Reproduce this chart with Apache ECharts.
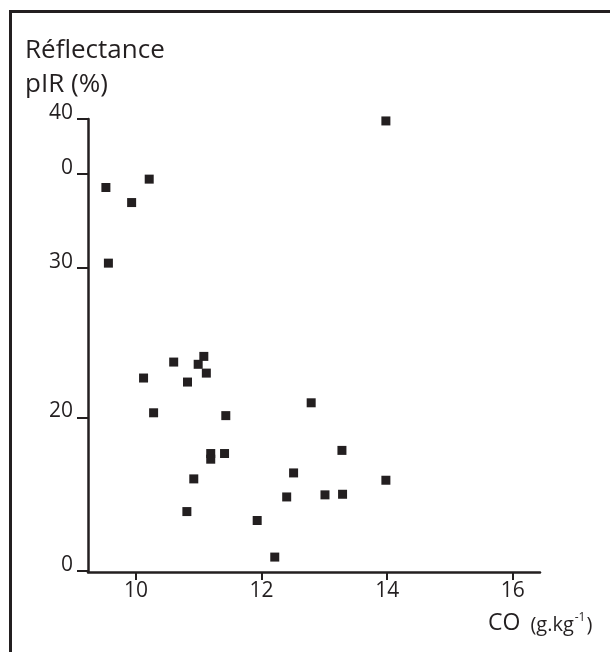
<!DOCTYPE html>
<html>
<head>
<meta charset="utf-8">
<title>Réflectance pIR / CO</title>
<script src="https://cdn.jsdelivr.net/npm/echarts@6/dist/echarts.min.js"></script>
<style>
  html, body { margin: 0; padding: 0; background: #fff; }
  #chart { width: 610px; height: 652px; }
</style>
</head>
<body>
<div id="chart"></div>
<script>
// CO (g.kg-1) et réflectance pIR (%)
var coValues = [10.21, 9.52, 9.93, 9.56, 10.60, 11.08, 10.99, 11.12, 10.12, 10.82,
                10.28, 11.43, 11.19, 11.19, 11.41, 10.92, 10.81, 11.93, 12.21, 12.51,
                12.40, 12.79, 13.28, 13.01, 13.29, 13.98, 13.98];
var pirValues = [35.97, 35.41, 34.40, 30.34, 23.71, 24.09, 23.56, 22.97, 22.64, 22.37,
                 20.31, 20.12, 17.58, 17.20, 17.58, 15.88, 13.69, 13.09, 10.64, 16.28,
                 14.67, 20.98, 17.79, 14.81, 14.85, 15.79, 39.87];

// graduations telles qu'imprimées sur la figure
var xTickValues = [10, 12, 14, 16];
var xTickLabels = ['10', '12', '14', '16'];
var yTickValues = [9.7, 20, 30, 36.33, 40];
var yTickLabels = ['0', '20', '30', '0', '40'];

var ink = '#231f20';
var font = 'Open Sans';

var points = [];
for (var i = 0; i < coValues.length; i++) {
    points.push([coValues[i], pirValues[i]]);
}

function tickLabel(values, labels) {
    return function (v) {
        var best = 0;
        for (var k = 1; k < values.length; k++) {
            if (Math.abs(values[k] - v) < Math.abs(values[best] - v)) best = k;
        }
        return labels[best];
    };
}

var chart = echarts.init(document.getElementById('chart'), null, { renderer: 'canvas' });

var option = {
    animation: false,
    backgroundColor: '#fff',
    title: [
        {
            text: 'Réflectance\npIR (%)',
            left: 20,
            top: 29,
            textStyle: { color: ink, fontFamily: font, fontSize: 26, fontWeight: 'normal', lineHeight: 34 }
        },
        {
            text: '{big|CO}{open|(g.kg}{sup|-1}{small|)}',
            left: 483,
            top: 603,
            textStyle: {
                fontWeight: 'normal',
                rich: {
                    big: { color: ink, fontFamily: font, fontSize: 23, fontWeight: 'normal', lineHeight: 30 },
                    open: { color: ink, fontFamily: font, fontSize: 20, fontWeight: 'normal', lineHeight: 30, padding: [4, 0, 0, 10] },
                    small: { color: ink, fontFamily: font, fontSize: 20, fontWeight: 'normal', lineHeight: 30, padding: [4, 0, 0, 1] },
                    sup: { color: ink, fontFamily: font, fontSize: 12, fontWeight: 'normal', lineHeight: 30, padding: [0, 0, 10, 1] }
                }
            }
        }
    ],
    grid: { left: 88, right: 70, top: 119, bottom: 80, containLabel: false },
    xAxis: {
        type: 'value',
        min: 9.235,
        max: 16.435,
        axisLine: { show: true, lineStyle: { color: ink, width: 2.5 } },
        axisTick: { show: true, length: 8, customValues: xTickValues, lineStyle: { color: ink, width: 2 } },
        axisLabel: {
            customValues: xTickValues,
            formatter: tickLabel(xTickValues, xTickLabels),
            margin: 9,
            color: ink,
            fontFamily: font,
            fontSize: 21
        },
        splitLine: { show: false }
    },
    yAxis: {
        type: 'value',
        min: 9.64,
        max: 40,
        axisLine: { show: true, lineStyle: { color: ink, width: 2.5 } },
        axisTick: { show: true, length: 11, customValues: yTickValues, lineStyle: { color: ink, width: 2 } },
        axisLabel: {
            customValues: yTickValues,
            formatter: tickLabel(yTickValues, yTickLabels),
            margin: 15,
            color: ink,
            fontFamily: font,
            fontSize: 21,
            verticalAlign: 'bottom',
            lineHeight: 12
        },
        splitLine: { show: false }
    },
    graphic: [
        {
            // cadre de la figure (bord gauche et haut)
            type: 'polyline',
            shape: { points: [[10.5, 652], [10.5, 11.5], [610, 11.5]] },
            style: { stroke: ink, lineWidth: 3, fill: null },
            silent: true
        }
    ],
    series: [
        {
            type: 'scatter',
            data: points,
            symbol: 'rect',
            symbolSize: 9,
            itemStyle: { color: ink, opacity: 1 },
            clip: false
        }
    ]
};

chart.setOption(option);
</script>
</body>
</html>
